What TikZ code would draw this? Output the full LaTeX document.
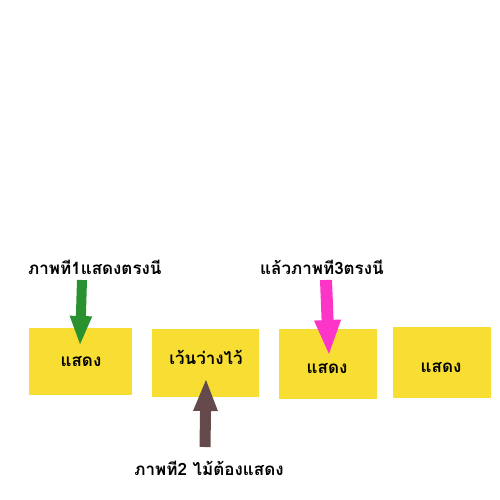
\documentclass[tikz,border=0pt]{standalone}
\usepackage{fontspec}
\usepackage{xcolor}
\usetikzlibrary{positioning, arrows.meta}
\newfontfamily\thaifont[Script=Thai]{Loma}
\definecolor{panel}{RGB}{248, 222, 51}
\definecolor{first}{RGB}{42, 145, 48}
\definecolor{second}{RGB}{100, 74, 74}
\definecolor{third}{RGB}{252, 53, 200}

\begin{document}
\begin{tikzpicture}[x=1pt, y=-1pt,
        slot/.style={rectangle, fill=panel, inner sep=0pt, anchor=north west},
        caption/.style={inner sep=0pt, font=\thaifont\bfseries\fontsize{17}{20}\selectfont},
        pointer/.style={line width=#1, -{Triangle[width=2*#1, length=3*#1]}}
    ]
        \useasboundingbox (0,0) rectangle (500,500);

        \node (slot1) [slot, minimum width=103pt, minimum height=67pt] at (29,328) {};
        \node (slot2) [slot, minimum width=107pt, minimum height=68pt] at (152,329) {};
        \node (slot3) [slot, minimum width=98pt, minimum height=70pt] at (279,329) {};
        \node (slot4) [slot, minimum width=98pt, minimum height=71pt] at (393,327) {};

        \node (text1) [caption] at (81,362) {แสดง};
        \node (text2) [caption] at (206,357) {เว้นว่างไว้};
        \node (text3) [caption] at (327,369) {แสดง};
        \node (text4) [caption] at (441,368) {แสดง};

        \node (label1) [caption, anchor=west] at (28,267) {ภาพที1แสดงตรงนี};
        \node (label3) [caption, anchor=west] at (260,267) {แล้วภาพที3ตรงนี};
        \node (label2) [caption] at (209,468) {ภาพที2 ไม้ต้องแสดง};

        \coordinate (from1) at (82,280);
        \coordinate (to1) at (80,346);
        \coordinate (from3) at (326,280);
        \coordinate (to3) at (329,356);
        \coordinate (from2) at (205,447);
        \coordinate (to2) at (206,378);

        \draw[pointer=10pt, first] (from1) -- (to1);
        \draw[pointer=12pt, third] (from3) -- (to3);
        \draw[pointer=11pt, second] (from2) -- (to2);
    \end{tikzpicture}
\end{document}
